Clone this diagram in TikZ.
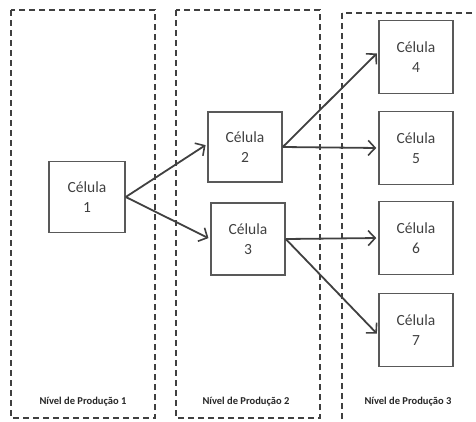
\documentclass[tikz,border=0pt]{standalone}
\usepackage{fontspec}
\setmainfont{Carlito}
\usetikzlibrary{arrows.meta}

\tikzset{
	celula/.style={draw=black!65, line width=1.5pt, minimum width=74pt, minimum height=73pt, align=center, text=black!75, font=\fontsize{15.5}{20}\selectfont},
	nivel/.style={draw=black!75, line width=1.9pt, dash pattern=on 6pt off 4pt},
	rotulo/.style={text=black!85, font=\fontsize{10.5}{12}\selectfont\bfseries},
	seta/.style={draw=black!75, line width=1.8pt, -{Straight Barb[length=7pt,width=15pt,line width=1.6pt]}, shorten >=2pt}
}

\begin{document}
\begin{tikzpicture}[x=1pt,y=-1pt]
	\useasboundingbox (0,0) rectangle (476,421);
	\clip (0,0) rectangle (476,421);
	% niveis de producao
	\draw [nivel] (11,10) rectangle (155,418);
	\draw [nivel] (176,10) rectangle (320,418);
	\draw [nivel] (342,13) rectangle (490,440);
	\node [rotulo] (n1) at (83,402) {Nível de Produção 1};
	\node [rotulo] (n2) at (246,402) {Nível de Produção 2};
	\node [rotulo] (n3) at (408,402) {Nível de Produção 3};

	% celulas
	\node [celula, minimum width=76pt, minimum height=71pt] (c1) at (87,197) {Célula\\1};
	\node [celula, minimum height=70pt] (c2) at (245,147) {Célula\\2};
	\node [celula, minimum height=72pt] (c3) at (248,239) {Célula\\3};
	\node [celula] (c4) at (416,57) {Célula\\4};
	\node [celula] (c5) at (416,148) {Célula\\5};
	\node [celula] (c6) at (416,238) {Célula\\6};
	\node [celula] (c7) at (416,330) {Célula\\7};

	% ligacoes
	\draw [seta] (c1.east) -- ([yshift=3pt]c2.west);
	\draw [seta] (c1.east) -- (c3.west);
	\draw [seta] (c2.east) -- ([yshift=5pt]c4.west);
	\draw [seta] (c2.east) -- (c5.west);
	\draw [seta] (c3.east) -- (c6.west);
	\draw [seta] (c3.east) -- ([yshift=-5pt]c7.west);
\end{tikzpicture}
\end{document}
